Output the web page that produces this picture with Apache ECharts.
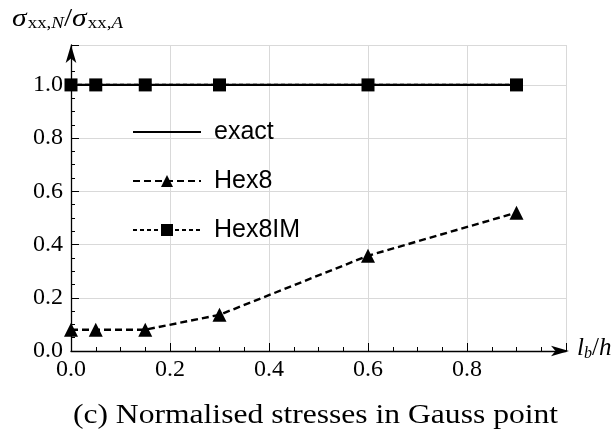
<!DOCTYPE html>
<html><head><meta charset="utf-8">
<script src="https://cdn.jsdelivr.net/npm/echarts@6/dist/echarts.min.js"></script>
<style>html,body{margin:0;padding:0;background:#fff}#c{width:615px;height:437px}</style>
</head><body><div id="c"></div>
<script>
const xValues = [0, 0.05, 0.15, 0.3, 0.6, 0.9];
const exactValues = [1, 1, 1, 1, 1, 1];
const hex8Values = [0.08, 0.08, 0.08, 0.136, 0.358, 0.52];
const hex8imValues = [1, 1, 1, 1, 1, 1];
const seriesNames = ['exact', 'Hex8', 'Hex8IM'];
const caption = '(c) Normalised stresses in Gauss point';

const zip = (xs, ys) => xs.map((x, i) => [x, ys[i]]);
const serif = '"Liberation Serif", "DejaVu Serif", serif';
const sans = '"Liberation Sans", Arial, sans-serif';

const chart = echarts.init(document.getElementById('c'));
chart.setOption({
  animation: false,
  backgroundColor: '#fff',
  grid: { left: 71, right: 49, top: 45, bottom: 86 },
  xAxis: {
    type: 'value', min: 0, max: 1.0, interval: 0.2,
    axisLine: { show: true, lineStyle: { color: '#000', width: 1.3 }, symbol: ['none', 'arrow'], symbolSize: [8, 18], symbolOffset: [0, 3] },
    axisTick: { show: true, inside: true, length: 8, lineStyle: { color: '#000' } },
    minorTick: { show: true, splitNumber: 4, length: 4, lineStyle: { color: '#000' } },
    splitLine: { show: true, lineStyle: { color: '#d9d9d9', width: 1 } },
    axisLabel: { color: '#000', fontFamily: serif, fontSize: 24, margin: 7, showMaxLabel: false, formatter: v => v.toFixed(1) }
  },
  yAxis: {
    type: 'value', min: 0, max: 1.15, interval: 0.2,
    axisLine: { show: true, lineStyle: { color: '#000', width: 1.3 }, symbol: ['none', 'arrow'], symbolSize: [8, 18] },
    axisTick: { show: true, inside: true, length: 8, lineStyle: { color: '#000' } },
    minorTick: { show: true, splitNumber: 4, length: 4, lineStyle: { color: '#000' } },
    splitLine: { show: true, lineStyle: { color: '#d9d9d9', width: 1 } },
    axisLabel: { color: '#000', fontFamily: serif, fontSize: 24, margin: 8, showMaxLabel: false, formatter: v => v.toFixed(1) }
  },
  legend: {
    orient: 'vertical', left: 127, top: 114, itemWidth: 68, itemHeight: 15, itemGap: 23,
    textStyle: { fontFamily: sans, fontSize: 25, lineHeight: 26, color: '#000', padding: [0, 0, 0, 8] },
    data: [
      { name: seriesNames[0], itemStyle: { opacity: 0 } },
      { name: seriesNames[1] },
      { name: seriesNames[2] }
    ]
  },
  series: [
    { name: seriesNames[0], type: 'line', data: zip(xValues, exactValues), symbol: 'none',
      lineStyle: { color: '#000', width: 2.4, type: 'solid' }, itemStyle: { color: '#000' }, z: 2 },
    { name: seriesNames[1], type: 'line', data: zip(xValues, hex8Values), symbol: 'triangle', symbolSize: 14,
      lineStyle: { color: '#000', width: 2.4, type: [7, 4] }, itemStyle: { color: '#000' }, z: 3 },
    { name: seriesNames[2], type: 'line', data: zip(xValues, hex8imValues), symbol: 'rect', symbolSize: 13,
      lineStyle: { color: '#000', width: 2.4, type: [4, 3] }, itemStyle: { color: '#000' }, z: 4 }
  ],
  graphic: [
    { type: 'text', x: 12, y: 6, scaleX: 1.18, style: {
      rich: {
        s: { fontFamily: serif, fontStyle: 'italic', fontSize: 25, fill: '#000' },
        sub: { fontFamily: serif, fontSize: 16, fill: '#000', padding: [10, 0, 0, 1] },
        subi: { fontFamily: serif, fontStyle: 'italic', fontSize: 16, fill: '#000', padding: [10, 0, 0, 0] },
        sl: { fontFamily: serif, fontSize: 25, fill: '#000' }
      },
      text: '{s|σ}{sub|xx,}{subi|N}{sl|/}{s|σ}{sub|xx,}{subi|A}'
    } },
    { type: 'text', left: 577, top: 336, style: {
      rich: {
        l: { fontFamily: serif, fontStyle: 'italic', fontSize: 25, fill: '#000' },
        sub: { fontFamily: serif, fontStyle: 'italic', fontSize: 16, fill: '#000', padding: [10, 0, 0, 0] },
        sl: { fontFamily: serif, fontSize: 25, fill: '#000' }
      },
      text: '{l|l}{sub|b}{sl|/}{l|h}'
    } },
    { type: 'text', x: 315.5, y: 416, scaleX: 1.17, style: { text: caption, x: 0, y: 0, align: 'center', verticalAlign: 'middle', fontFamily: serif, fontSize: 27, fill: '#000' } }
  ]
});
</script></body></html>
